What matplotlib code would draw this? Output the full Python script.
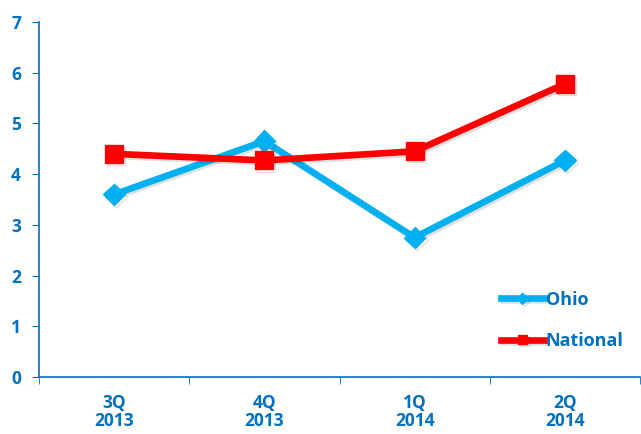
import matplotlib.pyplot as plt
import matplotlib.patheffects as pe

categories = ['3Q\n2013', '4Q\n2013', '1Q\n2014', '2Q\n2014']
ohio = [3.6, 4.65, 2.75, 4.27]
national = [4.4, 4.27, 4.45, 5.78]

blue_text = '#0070C0'
plt.rcParams['font.family'] = ['Open Sans', 'DejaVu Sans']

fig = plt.figure(figsize=(6.41, 4.34), dpi=100)
ax = fig.add_axes([39 / 641, 57 / 434, 601 / 641, 355 / 434])

x = list(range(len(categories)))
shadow = [pe.SimpleLineShadow(offset=(1.5, -1.5), alpha=0.12), pe.Normal()]
ax.plot(x, ohio, color='#00B0F0', lw=4.8, marker='D', markersize=11,
        label='Ohio', path_effects=shadow, zorder=3)
ax.plot(x, national, color='#FF0000', lw=4.8, marker='s', markersize=13,
        label='National', path_effects=shadow, zorder=4)

ax.set_xlim(-0.5, 3.5)
ax.set_ylim(0, 7)
ax.set_yticks(range(8))
ax.set_xticks(x)
ax.set_xticklabels(categories)
ax.set_xticks([-0.5, 0.5, 1.5, 2.5, 3.5], minor=True)
ax.tick_params(axis='x', which='major', length=0, pad=12)
ax.tick_params(axis='x', which='minor', length=5, color=blue_text, direction='out')
ax.tick_params(axis='y', length=5, color=blue_text, direction='out', pad=8)
for lab in ax.get_xticklabels() + ax.get_yticklabels():
    lab.set_color(blue_text)
    lab.set_fontweight('bold')
    lab.set_fontsize(12.5)
    lab.set_linespacing(1.05)

for s in ['top', 'right']:
    ax.spines[s].set_visible(False)
for s in ['left', 'bottom']:
    ax.spines[s].set_color(blue_text)
    ax.spines[s].set_linewidth(1.2)

leg = ax.legend(loc='lower right', bbox_to_anchor=(1.0, 0.03), frameon=False,
                handlelength=2.4, handletextpad=0.1, labelspacing=1.3,
                markerscale=0.5, prop={'weight': 'bold', 'size': 13})
for t in leg.get_texts():
    t.set_color(blue_text)

fig.savefig('out.png', dpi=100)
